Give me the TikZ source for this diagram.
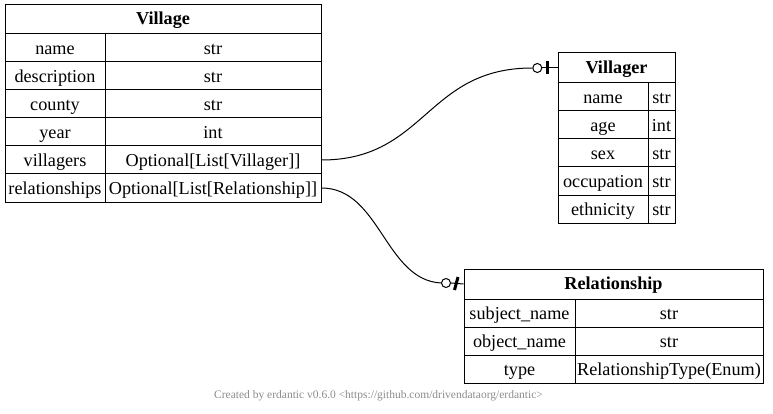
\documentclass[tikz,border=0pt]{standalone}
\usepackage{fontspec}
\setmainfont{Liberation Serif}
\begin{document}
\begin{tikzpicture}[x=1pt,y=-1pt,
  cell/.style={draw, line width=1pt, inner sep=0pt, minimum height=28pt, text height=13pt, text depth=0pt, font=\fontsize{18.2}{22}\selectfont},
  head/.style={cell, minimum height=30pt, text height=13pt, text depth=2pt, font=\fontsize{18.2}{22}\selectfont\bfseries},
  edge/.style={line width=1pt},
  odot/.style={circle, draw, line width=1pt, fill=white, inner sep=0pt, minimum size=9pt},
  tee/.style={line width=3pt}]
\useasboundingbox (0,0) rectangle (773,414);

% Village
\node[head, minimum width=316pt, minimum height=29pt] (vg) at (163,19.5) {Village};
\node[cell, minimum width=100pt] (vg-name) at (55,48) {name};
\node[cell, minimum width=216pt] (vg-name-t) at (213,48) {str};
\node[cell, minimum width=100pt] (vg-desc) at (55,76) {description};
\node[cell, minimum width=216pt] (vg-desc-t) at (213,76) {str};
\node[cell, minimum width=100pt] (vg-county) at (55,104) {county};
\node[cell, minimum width=216pt] (vg-county-t) at (213,104) {str};
\node[cell, minimum width=100pt] (vg-year) at (55,132) {year};
\node[cell, minimum width=216pt] (vg-year-t) at (213,132) {int};
\node[cell, minimum width=100pt] (vg-vill) at (55,160) {villagers};
\node[cell, minimum width=216pt] (vg-vill-t) at (213,160) {Optional[List[Villager]]};
\node[cell, minimum width=100pt] (vg-rel) at (55,188) {relationships};
\node[cell, minimum width=216pt] (vg-rel-t) at (213,188) {Optional[List[Relationship]]};

% Villager
\node[head, minimum width=117pt] (vr) at (616.5,68) {Villager};
\node[cell, minimum width=90pt] (vr-name) at (603,97) {name};
\node[cell, minimum width=27pt] (vr-name-t) at (661.5,97) {str};
\node[cell, minimum width=90pt] (vr-age) at (603,125) {age};
\node[cell, minimum width=27pt] (vr-age-t) at (661.5,125) {int};
\node[cell, minimum width=90pt] (vr-sex) at (603,153) {sex};
\node[cell, minimum width=27pt] (vr-sex-t) at (661.5,153) {str};
\node[cell, minimum width=90pt] (vr-occ) at (603,181) {occupation};
\node[cell, minimum width=27pt] (vr-occ-t) at (661.5,181) {str};
\node[cell, minimum width=90pt] (vr-eth) at (603,209) {ethnicity};
\node[cell, minimum width=27pt] (vr-eth-t) at (661.5,209) {str};

% Relationship
\node[head, minimum width=299pt] (rl) at (613.5,284) {Relationship};
\node[cell, minimum width=111pt] (rl-subj) at (519.5,313) {subject\_name};
\node[cell, minimum width=188pt] (rl-subj-t) at (669,313) {str};
\node[cell, minimum width=111pt] (rl-obj) at (519.5,341) {object\_name};
\node[cell, minimum width=188pt] (rl-obj-t) at (669,341) {str};
\node[cell, minimum width=111pt] (rl-type) at (519.5,369) {type};
\node[cell, minimum width=188pt] (rl-type-t) at (669,369) {RelationshipType(Enum)};

% edge 1
\node[odot] (m1) at (537.3,68) {};
\draw[edge] (vg-vill-t.east) .. controls (426,160) and (426,68) .. (m1.west);
\draw[edge] (m1.east) -- (vr.west);
\coordinate (t1a) at (547,61.5);
\coordinate (t1b) at (547,74.5);
\draw[tee] (t1a) -- (t1b);

% edge 2
\node[odot] (m2) at (446,283) {};
\draw[edge] (vg-rel-t.east) .. controls (380,188) and (385,280) .. (m2.west);
\draw[edge] (m2.east) -- (rl.west);
\coordinate (t2a) at (458,277);
\coordinate (t2b) at (454.5,290);
\draw[tee] (t2a) -- (t2b);

% footer
\node[font=\fontsize{11.5}{13}\selectfont, text=black!45, inner sep=0pt] (footer) at (378.5,396) {Created by erdantic v0.6.0 <https://github.com/drivendataorg/erdantic>};
\end{tikzpicture}
\end{document}
